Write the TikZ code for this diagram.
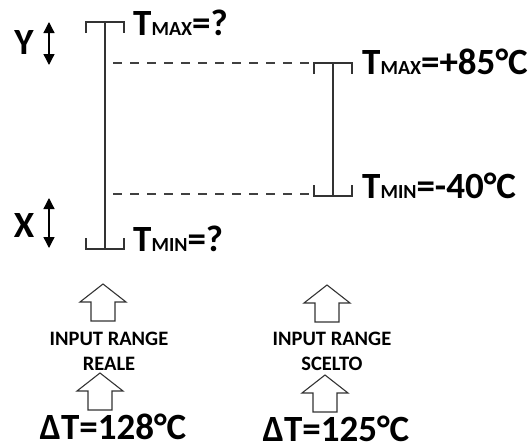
\documentclass[tikz,border=0pt]{standalone}
\usepackage{fontspec}
\setmainfont{Carlito}
\usepackage{tikz}
\usetikzlibrary{arrows.meta}

\tikzset{
  bigtxt/.style={font=\bfseries\fontsize{37}{37}\selectfont, inner sep=0pt},
  smalltxt/.style={font=\bfseries\fontsize{20.5}{25}\selectfont, align=center, inner sep=0pt},
  rangebar/.style={line width=1.3pt, black!80},
  guide/.style={line width=1.1pt, black!75, dash pattern=on 8.5pt off 8.5pt},
  dbl/.style={{Triangle[length=11pt,width=11pt]}-{Triangle[length=11pt,width=11pt]}, line width=1.3pt},
  hollowup/.pic={
    \draw[line width=1.1pt, black!80, fill=white]
      (0,0) -- (23,18) -- (12,18) -- (12,37) -- (-12,37) -- (-12,18) -- (-23,18) -- cycle;}
}
\newcommand{\lowcaps}[1]{{\fontsize{20}{20}\selectfont #1}}

\begin{document}
\begin{tikzpicture}[x=1pt, y=-1pt]

  \useasboundingbox (0,0) rectangle (528,445);

  % -- the two ranges: a bar with a cap at each end. \bx is the bar's x,
  %    \ytop and \ybot its ends (y grows downwards here)
  \foreach \bx/\ytop/\ybot in {105/22/249, 333/63/196}{
    \draw[rangebar] (\bx,\ytop) -- (\bx,\ybot);
    \draw[rangebar] ({\bx-19},{\ytop+11}) -- ({\bx-19},\ytop) -- ({\bx+19},\ytop) -- ({\bx+19},{\ytop+11});
    \draw[rangebar] ({\bx-19},{\ybot-11}) -- ({\bx-19},\ybot) -- ({\bx+19},\ybot) -- ({\bx+19},{\ybot-11});}

  % limits of each range
  \node[bigtxt, anchor=base west] (tmaxA) at (133,35)  {T\lowcaps{MAX}=?};
  \node[bigtxt, anchor=base west] (tminA) at (133,251) {T\lowcaps{MIN}=?};
  \node[bigtxt, anchor=base west] (tmaxB) at (362,74)  {T\lowcaps{MAX}=+85°C};
  \node[bigtxt, anchor=base west] (tminB) at (362,198) {T\lowcaps{MIN}=-40°C};

  % dashed guides from the chosen limits back to the real bar
  \coordinate (guideTa) at (113,63);  \coordinate (guideTb) at (311,63);
  \coordinate (guideBa) at (113,194); \coordinate (guideBb) at (311,194);
  \draw[guide] (guideTa) -- (guideTb);
  \draw[guide] (guideBa) -- (guideBb);

  % the two margins, Y above and X below
  \node[bigtxt] (ylab) at (24,43) {Y};
  \coordinate (yup) at (49,22);  \coordinate (ydn) at (49,65);
  \draw[dbl] (yup) -- (ydn);
  \node[bigtxt] (xlab) at (24,225) {X};
  \coordinate (xup) at (49,198); \coordinate (xdn) at (49,248);
  \draw[dbl] (xup) -- (xdn);

  % hollow arrows pointing up, tip given
  \foreach \ax/\ay in {103/284, 100/373, 327/285, 325/375}{
    \pic at (\ax,\ay) {hollowup};}

  \node[smalltxt] (realA)  at (109,351) {INPUT RANGE\\REALE};
  \node[smalltxt] (sceltB) at (332,351) {INPUT RANGE\\SCELTO};

  \node[bigtxt, anchor=base] (dtA) at (113,439) {ΔT=128°C};
  \node[bigtxt, anchor=base] (dtB) at (336,441) {ΔT=125°C};

\end{tikzpicture}
\end{document}
